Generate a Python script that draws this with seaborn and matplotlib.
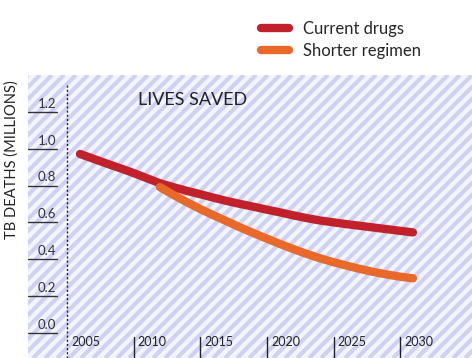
import numpy as np
import pandas as pd
import seaborn as sns
import matplotlib.pyplot as plt

# values (TB deaths, millions)
years_current = list(range(2005, 2031))
deaths_current = [0.972, 0.946, 0.92, 0.895, 0.869, 0.841, 0.813, 0.792, 0.772, 0.754,
                  0.735, 0.717, 0.701, 0.686, 0.67, 0.655, 0.639, 0.624, 0.611, 0.601,
                  0.591, 0.582, 0.573, 0.564, 0.555, 0.546]
years_shorter = list(range(2011, 2031))
deaths_shorter = [0.792, 0.75, 0.711, 0.674, 0.64, 0.607, 0.574, 0.543, 0.513, 0.484,
                  0.456, 0.43, 0.406, 0.385, 0.366, 0.348, 0.332, 0.318, 0.306, 0.297]
series_names = ["Current drugs", "Shorter regimen"]
series_colors = ["#c1212b", "#e8692a"]
y_ticks = [0.0, 0.2, 0.4, 0.6, 0.8, 1.0, 1.2]
x_ticks = [2005, 2010, 2015, 2020, 2025, 2030]

df = pd.concat([
    pd.DataFrame({"year": years_current, "deaths": deaths_current, "series": series_names[0]}),
    pd.DataFrame({"year": years_shorter, "deaths": deaths_shorter, "series": series_names[1]}),
])

sns.set_theme(style="white")
plt.rcParams["font.family"] = ["Lato", "DejaVu Sans"]

W, H = 472, 358
fig = plt.figure(figsize=(W / 100, H / 100), dpi=100)
fig.patch.set_facecolor("white")

# plot region in pixels
left, right, top, bottom = 28, 472, 75, 358
rect = [left / W, 1 - bottom / H, (right - left) / W, (bottom - top) / H]
pw, ph = right - left, bottom - top

# striped background
bg = fig.add_axes(rect)
bg.set_xlim(0, pw)
bg.set_ylim(0, ph)
for c in np.arange(-ph, pw + 12, 12):
    bg.plot([c, c + ph], [0, ph], color="#d0d0f2", lw=3.0, solid_capstyle="butt")
for s in bg.spines.values():
    s.set_visible(False)
bg.set_xticks([])
bg.set_yticks([])
bg.set_facecolor("#f2f5fc")

ax = fig.add_axes(rect, facecolor="none")
px_per_year = 13.32
x0 = 80
ax.set_xlim(2005 - (x0 - left) / px_per_year, 2005 + (right - x0) / px_per_year)
px_per_unit = 184.2
y0 = 333
ax.set_ylim(-(bottom - y0) / px_per_unit, (y0 - top) / px_per_unit)

sns.lineplot(data=df, x="year", y="deaths", hue="series", palette=series_colors,
             linewidth=6, ax=ax, legend=True)
for line in ax.get_lines():
    line.set_solid_capstyle("round")

for s in ax.spines.values():
    s.set_visible(False)
ax.set_xticks([])
ax.set_yticks([])
ax.set_xlabel("")
ax.set_ylabel("")

# y ticks: underline with label above
tick_frac = 29 / pw
for v in y_ticks:
    ax.axhline(v, 0, tick_frac, color="#333333", lw=1.0)
    ax.text(tick_frac * 0.97, v + 0.012, f"{v:.1f}", transform=ax.get_yaxis_transform(),
            ha="right", va="bottom", fontsize=9.5, color="#333333")

# x ticks: short vertical bar, label to the right
off = 0.96
for yr in x_ticks:
    xt = yr - off
    if yr == x_ticks[0]:
        ax.axvline(xt, 0, (bottom - 83) / ph, color="#222222", lw=1.0, ls=(0, (1.5, 1.5)))
    else:
        ax.axvline(xt, 0, 21 / ph, color="#222222", lw=1.0)
    ax.text(xt + 0.3, 16 / ph, str(yr), transform=ax.get_xaxis_transform(),
            ha="left", va="center", fontsize=9, color="#222222")

fig.text(138 / W, 1 - 100 / H, "LIVES SAVED", fontsize=13, color="#222222",
         ha="left", va="center")
fig.text(12 / W, 1 - 160 / H, "TB DEATHS (MILLIONS)", rotation=90, ha="center",
         va="center", fontsize=10.5, color="#222222")

handles, labels = ax.get_legend_handles_labels()
leg = fig.legend(handles, labels, loc="upper left", bbox_to_anchor=(246 / W, 1 - 6 / H),
                 frameon=False, fontsize=12, handlelength=1.7, handletextpad=0.8,
                 labelspacing=0.35)
for h in leg.get_lines():
    h.set_linewidth(6)
    h.set_solid_capstyle("round")
ax.get_legend().remove()

fig.savefig("out.png", dpi=100)
